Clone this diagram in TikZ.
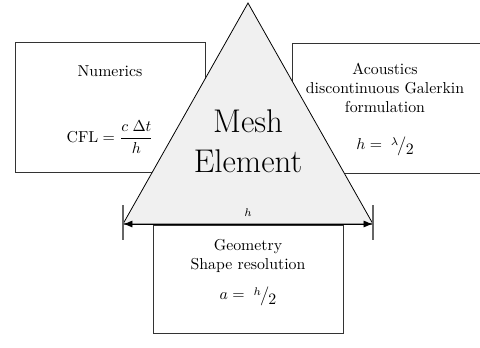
\documentclass[tikz,border=0pt]{standalone}
\usepackage{amsmath}
\usetikzlibrary{arrows.meta}
\tikzset{
  topicbox/.style={draw=black!80, line width=0.5pt},
  topictext/.style={font=\normalsize, align=center, inner sep=0pt},
  eqtext/.style={font=\normalsize, inner sep=0pt},
}
\newcommand{\halfof}[1]{\raisebox{0.7ex}{$\scriptstyle #1$}\mkern-1mu\big/\mkern-1mu\raisebox{-0.6ex}{$2$}}
\begin{document}
\begin{tikzpicture}[x=0.0222cm, y=-0.0222cm]
  \colorlet{meshfill}{black!6}
  \useasboundingbox (0,0) rectangle (480,347);
  \clip (0,0) rectangle (480,347);
  % numerics
  \draw[topicbox] (15,42) rectangle (205,172);
  \node[topictext] (numtitle) at (110,71) {Numerics};
  \node[eqtext] (numeq) at (110,137) {$\mathrm{CFL} = \dfrac{c\;\Delta t}{h}$};
  % acoustics
  \draw[topicbox] (292,43) rectangle (490,173);
  \node[topictext] (actitle) at (385,88) {Acoustics\\discontinuous Galerkin\\formulation};
  \node[eqtext] (aceq) at (385,146) {$h =\; \halfof{\lambda}$};
  % geometry
  \draw[topicbox] (153,225) rectangle (343,333);
  \node[topictext] (geotitle) at (248,256) {Geometry\\Shape resolution};
  \node[eqtext] (geoeq) at (248,296) {$a =\; \halfof{h}$};
  % mesh element
  \coordinate (apex) at (248,3);
  \coordinate (bl) at (123,224);
  \coordinate (br) at (373,224);
  \filldraw[fill=meshfill, draw=black, line width=0.5pt] (bl) -- (apex) -- (br) -- cycle;
  \node[font=\huge, align=center] (mesh) at (248,141) {Mesh\\Element};
  % size of the element
  \draw[black!60, line width=0.8pt] ([yshift=12]bl) -- ([yshift=-10]bl);
  \draw[black!60, line width=0.8pt] ([yshift=12]br) -- ([yshift=-10]br);
  \draw[{Latex[length=6pt]}-{Latex[length=6pt]}, line width=0.6pt] (bl) -- (br)
    node[midway, above=1pt, font=\scriptsize] (hlabel) {$h$};
\end{tikzpicture}
\end{document}
